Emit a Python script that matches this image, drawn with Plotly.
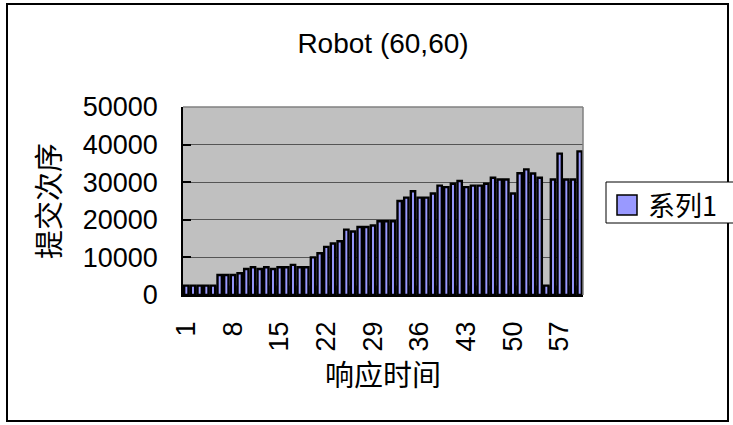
import plotly.graph_objects as go

# Response-time index (1..60) and submission order values
categories = list(range(1, 61))
values = [
    2500, 2500, 2500, 2500, 2500, 5300, 5300, 5300, 5800, 6900,
    7400, 6900, 7400, 6900, 7400, 7400, 8000, 7400, 7400, 10000,
    11100, 12800, 13700, 14300, 17400, 16900, 18100, 18100, 18500, 19600,
    19600, 19600, 25000, 25900, 27600, 25900, 25900, 27000, 29100, 28700,
    29600, 30300, 28700, 29100, 29100, 29600, 31200, 30700, 30700, 27000,
    32400, 33400, 32300, 31200, 2500, 30700, 37600, 30700, 30700, 38200,
]
series_name = "系列1"
x_ticks = [1, 8, 15, 22, 29, 36, 43, 50, 57]
y_ticks = [0, 10000, 20000, 30000, 40000, 50000]

W, H = 733, 425
L, R, T, B = 183, 150, 107, 130
pw, ph = W - L - R, H - T - B

def px_x(p):
    return (p - L) / pw

def px_y(p):
    return (H - B - p) / ph

font_lat = "Liberation Sans, Arial, sans-serif"
font_cjk = "Noto Sans CJK SC, sans-serif"
bar_fill = "#9999FF"

fig = go.Figure()
fig.add_trace(go.Bar(
    x=categories, y=values, name=series_name,
    marker=dict(color=bar_fill, line=dict(color="black", width=2.4)),
))

shapes = [
    # dark floor band at the base of the plot
    dict(type="rect", xref="x", yref="y", x0=0.5, x1=60.5, y0=0, y1=2500,
         fillcolor="#474747", line=dict(width=0), layer="below"),
    # plot area frame (top / right)
    dict(type="line", xref="paper", yref="paper", x0=0, x1=1, y0=1, y1=1,
         line=dict(color="#808080", width=1.5)),
    dict(type="line", xref="paper", yref="paper", x0=1, x1=1, y0=0, y1=1,
         line=dict(color="#808080", width=1.5)),
    # chart outer border
    dict(type="rect", xref="paper", yref="paper",
         x0=px_x(7), x1=px_x(728), y0=px_y(421), y1=px_y(4),
         line=dict(color="black", width=2), fillcolor="rgba(0,0,0,0)"),
    # legend box
    dict(type="rect", xref="paper", yref="paper",
         x0=px_x(606), x1=px_x(745), y0=px_y(223), y1=px_y(182),
         line=dict(color="black", width=1), fillcolor="white"),
    # legend swatch
    dict(type="rect", xref="paper", yref="paper",
         x0=px_x(617), x1=px_x(637), y0=px_y(215), y1=px_y(195),
         line=dict(color="black", width=1.5), fillcolor=bar_fill),
]

annotations = [
    dict(text=series_name, xref="paper", yref="paper", x=px_x(646), y=px_y(204),
         xanchor="left", yanchor="middle", showarrow=False,
         font=dict(family=font_cjk, size=27, color="black")),
]

fig.update_layout(
    width=W, height=H,
    margin=dict(l=L, r=R, t=T, b=B),
    paper_bgcolor="white",
    plot_bgcolor="#C0C0C0",
    bargap=0.35,
    showlegend=False,
    xaxis=dict(
        range=[0.5, 60.5], tickmode="array", tickvals=x_ticks,
        ticktext=[str(v) for v in x_ticks], tickangle=-90,
        tickfont=dict(family=font_lat, size=27, color="black"),
        showgrid=False, zeroline=False, showline=True, linecolor="black", linewidth=1.5,
        ticks="", ticklabelstandoff=14,
        title=dict(text="响应时间", font=dict(family=font_cjk, size=29, color="black"), standoff=10),
    ),
    yaxis=dict(
        range=[0, 50000], tickmode="array", tickvals=y_ticks,
        ticktext=[str(v) for v in y_ticks],
        tickfont=dict(family=font_lat, size=27, color="black"),
        showgrid=True, gridcolor="#555555", gridwidth=1.2,
        zeroline=False, showline=True, linecolor="black", linewidth=1.5,
        ticks="inside", ticklen=8, tickcolor="black", tickwidth=1.5,
        ticklabelstandoff=18,
        title=dict(text="提交次序", font=dict(family=font_cjk, size=29, color="black"), standoff=14),
    ),
    title=dict(
        text="Robot (60,60)", x=0.5, xref="paper", xanchor="center",
        y=1 - 43 / H, yref="container", yanchor="middle",
        font=dict(family="Liberation Sans Narrow, Liberation Sans, Arial, sans-serif",
                  size=28, color="black"),
    ),
    shapes=shapes,
    annotations=annotations,
)

fig.write_html("out.html")
